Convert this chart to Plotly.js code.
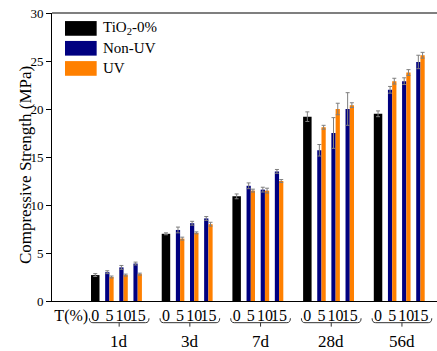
<!DOCTYPE html>
<html>
<head>
<meta charset="utf-8">
<script src="https://cdn.plot.ly/plotly-3.0.1.min.js"></script>
<style>html,body{margin:0;padding:0;background:#fff;}#chart{width:437px;height:351px;}</style>
</head>
<body>
<div id="chart"></div>
<script>
// ---- data ----
const ages = ["1d", "3d", "7d", "28d", "56d"];
const levels = ["0", "5", "10", "15"];          // TiO2 content (%)
const axisLead = "T(%)";
const seriesNames = ["TiO<sub>2</sub>-0%", "Non-UV", "UV"];
const yTitle = "Compressive Strength (MPa)";

const ref0 = [2.7, 7.0, 10.9, 19.2, 19.5];           // TiO2-0% per age
const ref0Err = [0.15, 0.1, 0.25, 0.5, 0.3];

// Non-UV per age for 5, 10, 15 %
const nonUV1d = [3.0, 3.5, 3.9];
const nonUV3d = [7.4, 8.1, 8.6];
const nonUV7d = [12.0, 11.6, 13.5];
const nonUV28d = [15.7, 17.5, 20.0];
const nonUV56d = [22.0, 22.9, 24.9];
const nonUVErr1d = [0.15, 0.2, 0.15];
const nonUVErr3d = [0.3, 0.2, 0.2];
const nonUVErr7d = [0.3, 0.25, 0.2];
const nonUVErr28d = [0.6, 1.6, 1.7];
const nonUVErr56d = [0.35, 0.35, 0.7];

// UV per age for 5, 10, 15 %
const uv1d = [2.5, 2.7, 2.8];
const uv3d = [6.5, 7.1, 8.0];
const uv7d = [11.5, 11.5, 12.5];
const uv28d = [18.1, 20.0, 20.4];
const uv56d = [22.9, 23.8, 25.6];
const uvErr1d = [0.1, 0.1, 0.1];
const uvErr3d = [0.15, 0.1, 0.2];
const uvErr7d = [0.15, 0.25, 0.15];
const uvErr28d = [0.2, 0.6, 0.25];
const uvErr56d = [0.3, 0.3, 0.3];

const nonUV = [nonUV1d, nonUV3d, nonUV7d, nonUV28d, nonUV56d];
const nonUVErr = [nonUVErr1d, nonUVErr3d, nonUVErr7d, nonUVErr28d, nonUVErr56d];
const uv = [uv1d, uv3d, uv7d, uv28d, uv56d];
const uvErr = [uvErr1d, uvErr3d, uvErr7d, uvErr28d, uvErr56d];

// ---- positions on a numeric axis (group spacing 5 slots) ----
const G = 5;
const xBlack = ages.map((a, i) => i * G);
const xPairs = [], yNon = [], eNon = [], yUv = [], eUv = [];
ages.forEach((a, i) => {
  for (let j = 0; j < 3; j++) {
    xPairs.push(i * G + j + 1);
    yNon.push(nonUV[i][j]); eNon.push(nonUVErr[i][j]);
    yUv.push(uv[i][j]); eUv.push(uvErr[i][j]);
  }
});

const errStyle = (arr) => ({type: 'data', array: arr, visible: true, color: '#7f7f7f', thickness: 1, width: 2});

const traces = [
  {type: 'bar', name: seriesNames[0], x: xBlack, y: ref0, width: 0.6, offset: -0.3,
   marker: {color: '#000000', line: {width: 0}}, error_y: errStyle(ref0Err)},
  {type: 'bar', name: seriesNames[1], x: xPairs, y: yNon, width: 0.3, offset: -0.3,
   marker: {color: '#000080', line: {width: 0}}, error_y: errStyle(eNon)},
  {type: 'bar', name: seriesNames[2], x: xPairs, y: yUv, width: 0.3, offset: 0,
   marker: {color: '#ff8000', line: {width: 0}}, error_y: errStyle(eUv)}
];

// tick labels
const tickvals = [-1.7], ticktext = [axisLead];
ages.forEach((a, i) => levels.forEach((l, j) => { tickvals.push(i * G + j); ticktext.push(l); }));

const font = "'Liberation Serif', 'Times New Roman', serif";
const shapes = [
  {type: 'line', xref: 'paper', yref: 'paper', x0: 0, x1: 1, y0: 1, y1: 1, line: {color: '#555', width: 1.5}}
];
const annotations = [
  {xref: 'paper', yref: 'paper', x: -0.070, y: 0.472, text: yTitle, textangle: -90, showarrow: false,
   xanchor: 'center', yanchor: 'middle', font: {family: font, size: 17, color: '#000'}}
];
// braces + age labels
ages.forEach((a, i) => {
  const x0 = i * G - 0.42, x1 = i * G + 3.8, xc = i * G + 1.69, r = 0.25;
  const yt = -0.060, ym = -0.0753, yb = -0.089;
  shapes.push({type: 'path', xref: 'x', yref: 'paper',
    path: `M ${x0},${yt} Q ${x0},${ym} ${x0 + r},${ym} L ${x1 - r},${ym} Q ${x1},${ym} ${x1},${yt} M ${xc},${ym} L ${xc},${yb}`,
    line: {color: '#333', width: 1}});
  annotations.push({xref: 'x', yref: 'paper', x: xc, y: -0.141, text: a, showarrow: false,
    font: {family: font, size: 17, color: '#000'}, xanchor: 'center', yanchor: 'middle', borderpad: 0});
});
// legend drawn as swatches + text
const legColors = ['#000000', '#000080', '#ff8000'];
const rows = [[0.972, 0.921, 0.947], [0.903, 0.852, 0.877], [0.833, 0.782, 0.809]];
seriesNames.forEach((n, k) => {
  shapes.push({type: 'rect', xref: 'paper', yref: 'paper', x0: 0.0338, x1: 0.116,
    y0: rows[k][1], y1: rows[k][0], fillcolor: legColors[k], line: {width: 0}});
  annotations.push({xref: 'paper', yref: 'paper', x: 0.127, y: rows[k][2], text: n, showarrow: false,
    xanchor: 'left', yanchor: 'middle', font: {family: font, size: 15, color: '#000'}});
});

const layout = {
  width: 437, height: 351,
  margin: {l: 52, r: 0, t: 13, b: 50, pad: 0},
  paper_bgcolor: '#fff', plot_bgcolor: '#fff',
  showlegend: false, barmode: 'overlay',
  font: {family: font, color: '#000'},
  xaxis: {range: [-3.06, 24.17], tickvals: tickvals, ticktext: ticktext, ticks: '',
    showgrid: false, zeroline: false, showline: true, linecolor: '#000', linewidth: 1,
    tickfont: {family: font, size: 16, color: '#000'}, tickangle: 0, fixedrange: true},
  yaxis: {range: [0, 30], dtick: 5, ticks: 'outside', ticklen: 5, tickcolor: '#000', tickwidth: 1,
    showgrid: false, zeroline: false, showline: true, linecolor: '#000', linewidth: 1,
    tickfont: {family: font, size: 13, color: '#000'}},
  shapes: shapes, annotations: annotations
};

Plotly.newPlot('chart', traces, layout, {displayModeBar: false, staticPlot: true});
</script>
</body>
</html>
